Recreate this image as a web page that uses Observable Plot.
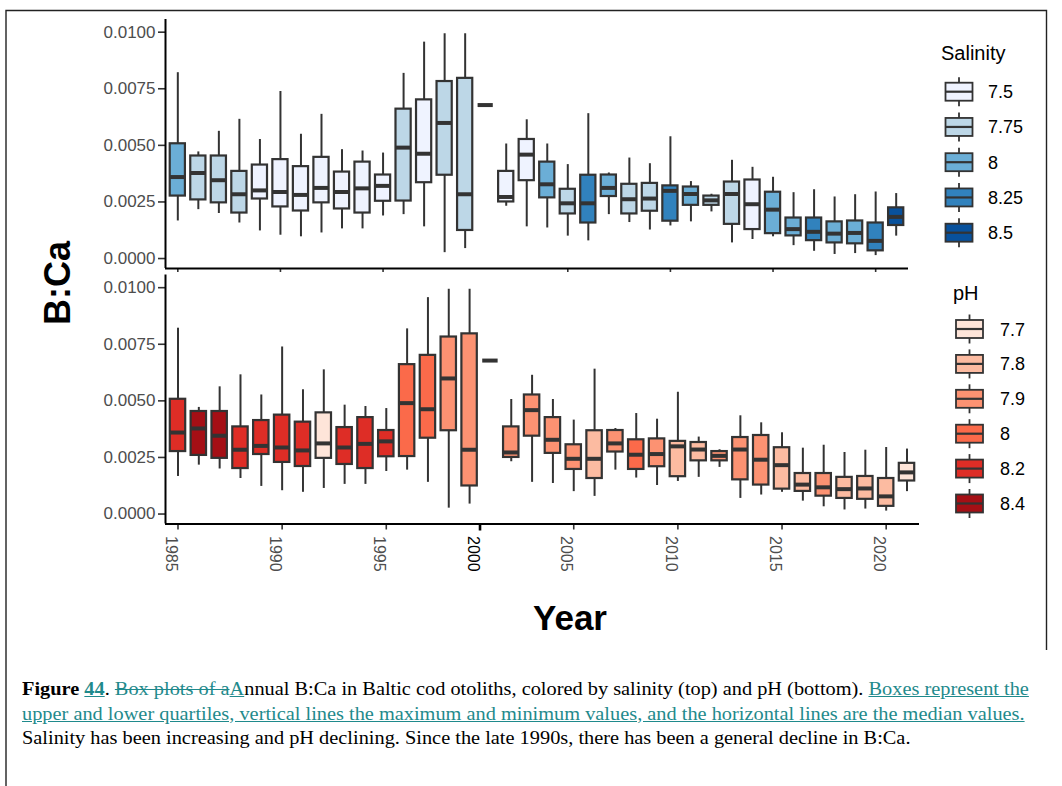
<!DOCTYPE html>
<html><head><meta charset="utf-8">
<script src="https://cdn.jsdelivr.net/npm/d3@7"></script>
<script src="https://cdn.jsdelivr.net/npm/@observablehq/plot@0.6"></script>
<style>
body{margin:0;background:#fff;}
#wrap{position:relative;width:1062px;height:786px;overflow:hidden;font-family:"Liberation Sans",Arial,sans-serif;background:#fff;}
#caption{position:absolute;left:22px;top:677px;font-family:"Liberation Serif","Times New Roman",serif;font-size:18px;line-height:24.5px;color:#000;white-space:nowrap;transform:scaleX(1.13);transform-origin:0 0;}
.tc{color:#1f8a8c;text-decoration:underline;}
.del{color:#1f8a8c;text-decoration:line-through;}
</style></head><body><div id="wrap"></div>
<script>
// ---------- data ----------
const years = [1985,1986,1987,1988,1989,1990,1991,1992,1993,1994,1995,1996,1997,1998,1999,
  2001,2002,2003,2004,2005,2006,2007,2008,2009,2010,2011,2012,2013,2014,2015,2016,2017,2018,2019,2020,2021];
const bMin = [0.00166,0.00216,0.00199,0.00157,0.00122,0.00103,0.00096,0.00113,0.00131,0.00131,0.00188,0.00194,0.00140,0.00026,0.00044,
  0.00678,0.00231,0.00140,0.00135,0.00099,0.00078,0.00194,0.00159,0.00126,0.00144,0.00162,0.00206,0.00069,0.00084,0.00096,0.00057,0.00032,0.00018,0.00022,0.00013,0.00099];
const bQ1 = [0.00276,0.00259,0.00246,0.00201,0.00263,0.00228,0.00210,0.00246,0.00219,0.00201,0.00253,0.00254,0.00335,0.00368,0.00124,
  0.00678,0.00250,0.00344,0.00268,0.00197,0.00157,0.00274,0.00197,0.00209,0.00165,0.00235,0.00235,0.00151,0.00128,0.00110,0.00100,0.00079,0.00069,0.00065,0.00034,0.00146];
const bMed = [0.00360,0.00378,0.00346,0.00284,0.00301,0.00294,0.00281,0.00312,0.00294,0.00310,0.00321,0.00490,0.00463,0.00599,0.00284,
  0.00678,0.00272,0.00459,0.00328,0.00244,0.00244,0.00312,0.00262,0.00265,0.00299,0.00285,0.00257,0.00285,0.00240,0.00216,0.00130,0.00118,0.00110,0.00113,0.00078,0.00184];
const bQ3 = [0.00507,0.00453,0.00453,0.00385,0.00413,0.00437,0.00406,0.00447,0.00382,0.00426,0.00369,0.00660,0.00701,0.00782,0.00796,
  0.00678,0.00385,0.00526,0.00426,0.00306,0.00368,0.00369,0.00328,0.00332,0.00321,0.00316,0.00276,0.00338,0.00347,0.00293,0.00179,0.00179,0.00162,0.00166,0.00157,0.00224];
const bMax = [0.00821,0.00471,0.00562,0.00615,0.00526,0.00738,0.00549,0.00637,0.00481,0.00475,0.00466,0.00818,0.00956,0.00993,0.00993,
  0.00678,0.00506,0.00613,0.00506,0.00415,0.00640,0.00378,0.00444,0.00419,0.00538,0.00340,0.00284,0.00434,0.00403,0.00359,0.00291,0.00304,0.00272,0.00282,0.00294,0.00287];
const salinity = ["8","7.75","7.75","7.75","7.5","7.5","7.5","7.5","7.5","7.5","7.5","7.75","7.5","7.75","7.75",
  "7.75","7.5","7.5","8","7.75","8.25","8","7.75","7.75","8.25","8","7.75","7.75","7.5","8","8","8.25","8","8","8.25","8.5"];
const ph = ["8.2","8.4","8.4","8.2","8.2","8.2","8.2","7.7","8.2","8.2","8.2","8","8","7.9","7.9",
  "7.9","7.9","7.9","7.9","7.9","7.8","7.9","8","7.9","7.8","7.8","7.9","7.9","7.9","7.8","7.8","7.9","7.8","7.8","7.8","7.7"];
const salinityLevels = ["7.5","7.75","8","8.25","8.5"];
const salinityColors = ["#eff3ff","#bdd7e7","#6baed6","#3182bd","#08519c"];
const phLevels = ["7.7","7.8","7.9","8","8.2","8.4"];
const phColors = ["#fee5d9","#fcbba1","#fc9272","#fb6a4a","#de2d26","#a50f15"];
const yTicks = [0, 0.0025, 0.005, 0.0075, 0.01];
const xTickYears = [1985,1990,1995,2005,2010,2015,2020];
const addedLabel = {text: "2000", between: [1999, 2001]};
const yTitle = "B:Ca", xTitle = "Year";

// ---------- build ----------
const rows = years.map((y, i) => ({i, year: y, min: bMin[i], q1: bQ1[i], med: bMed[i], q3: bQ3[i], max: bMax[i], sal: salinity[i], ph: ph[i]}));
const xDomain = [-0.6, years.length - 1 + 0.6];
const yDomain = [-0.00044, 0.01056];
const tickIdx = xTickYears.map(y => years.indexOf(y));
const addedIdx = (years.indexOf(addedLabel.between[0]) + years.indexOf(addedLabel.between[1])) / 2;
const half = 0.37;
const FONT = '"Liberation Sans", Arial, Helvetica, sans-serif';

function panel({key, levels, colors, marginRight, top, marginTop, marginBottom, height, labels}) {
  const marks = [
    Plot.ruleX(rows, {x: "i", y1: "min", y2: "max", stroke: "#333333", strokeWidth: 2}),
    Plot.rect(rows, {x1: d => d.i - half, x2: d => d.i + half, y1: "q1", y2: "q3", fill: key, stroke: "#333333", strokeWidth: 2.2}),
    Plot.ruleY(rows, {x1: d => d.i - half, x2: d => d.i + half, y: "med", stroke: "#333333", strokeWidth: 4}),
    Plot.axisY({ticks: yTicks, tickFormat: d3.format(".4f"), tickSize: 7, tickPadding: 3, fontSize: 17, stroke: "#333333", fill: "#4d4d4d", strokeWidth: 1.6, label: null}),
    Plot.axisX({ticks: tickIdx, tickSize: labels ? 6 : 4, tickFormat: () => "", stroke: "#333333", strokeWidth: 1.6, label: null}),
    Plot.ruleY([yDomain[0]], {stroke: "#000", strokeWidth: 2}),
    Plot.ruleX([xDomain[0]], {stroke: "#000", strokeWidth: 2})
  ];
  if (labels) {
    marks.push(
      Plot.text(xTickYears, {x: d => years.indexOf(d), frameAnchor: "bottom", text: d => String(d), rotate: 90, textAnchor: "start", lineAnchor: "top", dy: 12, dx: -1, fill: "#4d4d4d", fontSize: 16}),
      Plot.axisX({ticks: [addedIdx], tickSize: 7, tickFormat: () => "", stroke: "#000", strokeWidth: 2.6, label: null}),
      Plot.text([addedLabel.text], {x: () => addedIdx, frameAnchor: "bottom", text: d => d, rotate: 90, textAnchor: "start", lineAnchor: "top", dy: 12, dx: -1, fill: "#000", fontSize: 16})
    );
  }
  const svg = Plot.plot({
    width: 1062, height,
    marginLeft: 165, marginRight, marginTop, marginBottom,
    x: {type: "linear", domain: xDomain, axis: null},
    y: {domain: yDomain, axis: null},
    color: {type: "ordinal", domain: levels, range: colors},
    style: {fontFamily: FONT, background: "transparent", overflow: "visible"},
    marks
  });
  svg.style.position = "absolute";
  svg.style.left = "0px";
  svg.style.top = top + "px";
  svg.style.maxWidth = "none";
  return svg;
}

const wrap = document.getElementById("wrap");
wrap.appendChild(panel({key: "sal", levels: salinityLevels, colors: salinityColors, marginRight: 154, top: 0, marginTop: 19, marginBottom: 7, height: 275, labels: false}));
wrap.appendChild(panel({key: "ph", levels: phLevels, colors: phColors, marginRight: 143, top: 270, marginTop: 4.5, marginBottom: 70, height: 323.5, labels: true}));

// ---------- overlay: frame, titles, legends ----------
const ov = d3.select(wrap).append("svg")
  .attr("width", 1062).attr("height", 786)
  .style("position", "absolute").style("left", 0).style("top", 0)
  .style("pointer-events", "none").style("font-family", FONT);

ov.append("path").attr("d", "M6,786 V10.5 H1046.5 V650").attr("fill", "none").attr("stroke", "#222").attr("stroke-width", 1.4);

ov.append("text").attr("transform", "translate(70,283) rotate(-90)").attr("text-anchor", "middle")
  .attr("font-size", 36).attr("font-weight", "bold").attr("fill", "#000").text(yTitle);
ov.append("text").attr("x", 570).attr("y", 630).attr("text-anchor", "middle")
  .attr("font-size", 35).attr("font-weight", "bold").attr("fill", "#000").text(xTitle);

function legend({title, levels, colors, tx, ty, kx, y0, step, lx}) {
  const g = ov.append("g");
  g.append("text").attr("x", tx).attr("y", ty).attr("font-size", 20).attr("fill", "#000").text(title);
  levels.forEach((lv, j) => {
    const cy = y0 + j * step;
    g.append("line").attr("x1", kx).attr("x2", kx).attr("y1", cy - 14.5).attr("y2", cy + 14.5).attr("stroke", "#333").attr("stroke-width", 1.8);
    g.append("rect").attr("x", kx - 13.5).attr("y", cy - 9).attr("width", 27).attr("height", 18)
      .attr("fill", colors[j]).attr("stroke", "#333").attr("stroke-width", 1.8);
    g.append("line").attr("x1", kx - 13.5).attr("x2", kx + 13.5).attr("y1", cy).attr("y2", cy).attr("stroke", "#333").attr("stroke-width", 2.2);
    g.append("text").attr("x", lx).attr("y", cy + 6.5).attr("font-size", 18).attr("fill", "#000").text(lv);
  });
}
legend({title: "Salinity", levels: salinityLevels, colors: salinityColors, tx: 941, ty: 60, kx: 959, y0: 91.7, step: 35.25, lx: 988});
legend({title: "pH", levels: phLevels, colors: phColors, tx: 953, ty: 300, kx: 969.5, y0: 329, step: 34.9, lx: 1000});

// ---------- caption ----------
const cap = document.createElement("div");
cap.id = "caption";
cap.innerHTML = '<b>Figure <span class="tc">44</span></b>. <span class="del">Box plots of a</span><span class="tc">A</span>nnual B:Ca in Baltic cod otoliths, colored by salinity (top) and pH (bottom). <span class="tc">Boxes represent the</span><br>' +
  '<span class="tc">upper and lower quartiles, vertical lines the maximum and minimum values, and the horizontal lines are the median values.</span><br>' +
  'Salinity has been increasing and pH declining. Since the late 1990s, there has been a general decline in B:Ca.';
wrap.appendChild(cap);
</script></body></html>
